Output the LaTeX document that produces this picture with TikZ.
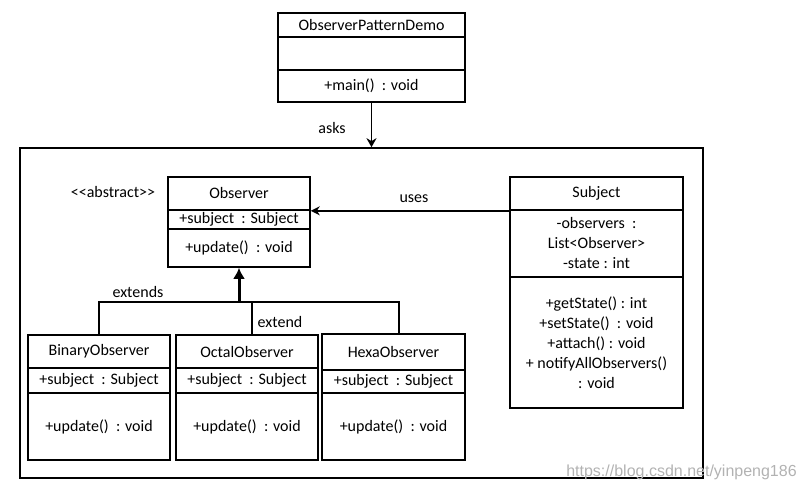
\documentclass[tikz,border=0pt]{standalone}
\usepackage{fontspec}
\setmainfont{Carlito}
\newfontfamily\wmfont{Liberation Sans}
\usetikzlibrary{arrows.meta}

\tikzstyle{cell}=[rectangle,draw=black,line width=1.6pt,inner sep=0pt,align=center]
\tikzstyle{link}=[draw=black,line width=1.6pt]
\tikzstyle{note}=[inner sep=1pt]

\begin{document}
\begin{tikzpicture}[x=1pt,y=-1pt,font=\fontsize{16}{20}\selectfont]
		\useasboundingbox (0,0) rectangle (806,490);
		
		% package frame
		\node (pkg) at (361.5,313) [cell,minimum width=683,minimum height=330] {};
		
		% client
		\node (demoT) at (371.5,25) [cell,minimum width=187,minimum height=24] {ObserverPatternDemo};
		\node (demoA) at (371.5,53.5) [cell,minimum width=187,minimum height=33] {};
		\node (demoM) at (371.5,86) [cell,minimum width=187,minimum height=32] {+main()\ \ : void};
		
		% observer
		\node (obsT) at (239,193.5) [cell,minimum width=142,minimum height=33] {Observer};
		\node (obsA) at (239,219.5) [cell,minimum width=142,minimum height=19] {+subject\ \ : Subject};
		\node (obsM) at (239,248) [cell,minimum width=142,minimum height=38] {+update()\ \ : void};
		\node (abs) at (113,192) [note] {<{}<abstract>{}>};
		
		% subject
		\node (subT) at (596.5,193.5) [cell,minimum width=173,minimum height=33] {Subject};
		\node (subA) at (596.5,243.5) [cell,minimum width=173,minimum height=67] {-observers\ \ :\\List<Observer>\\-state : int};
		\node (subM) at (596.5,342.5) [cell,minimum width=173,minimum height=131] {+getState() : int\\+setState()\ \ : void\\+attach() : void\\+ notifyAllObservers()\\: void};
		
		% concrete observers
		\node (binT) at (99,351.5) [cell,minimum width=142,minimum height=33] {BinaryObserver};
		\node (binA) at (99,380.5) [cell,minimum width=142,minimum height=25] {+subject\ \ : Subject};
		\node (binM) at (99,426.5) [cell,minimum width=142,minimum height=67] {+update()\ \ : void};
		
		\node (octT) at (247,351.5) [cell,minimum width=142,minimum height=33] {OctalObserver};
		\node (octA) at (247,380.5) [cell,minimum width=142,minimum height=25] {+subject\ \ : Subject};
		\node (octM) at (247,426.5) [cell,minimum width=142,minimum height=67] {+update()\ \ : void};
		
		\node (hexT) at (393.5,352) [cell,minimum width=143,minimum height=36] {HexaObserver};
		\node (hexA) at (393.5,381.5) [cell,minimum width=143,minimum height=23] {+subject\ \ : Subject};
		\node (hexM) at (393.5,426.5) [cell,minimum width=143,minimum height=67] {+update()\ \ : void};
		
		% relations
		\coordinate (bar) at (239,302);
		\draw [link,-{Stealth[length=9pt,width=10pt]}] (demoM.south) -- (demoM.south |- pkg.north);
		\draw [link,-{Stealth[length=9pt,width=9pt]}] (subT.south west) -- (obsT.south east);
		\draw [link] (binT.north) |- (bar) -| ([xshift=5.5]hexT.north);
		\draw [link] ([xshift=5]octT.north) -- ([xshift=5]octT.north |- bar);
		\draw [line width=3pt,-{Latex[length=11pt,width=12pt]}] (bar) -- (obsM.south);
		
		\node (asks) at (332,128) [note] {asks};
		\node (uses) at (414,199) [note] {uses};
		\node (ext1) at (138,292) [note] {extends};
		\node (ext2) at (280,322) [note] {extend};
		
		\node (wm) at (681.5,472) [note,text=black!30,font=\wmfont\fontsize{16}{16}\selectfont] {https://blog.csdn.net/yinpeng186};
	\end{tikzpicture}
\end{document}
